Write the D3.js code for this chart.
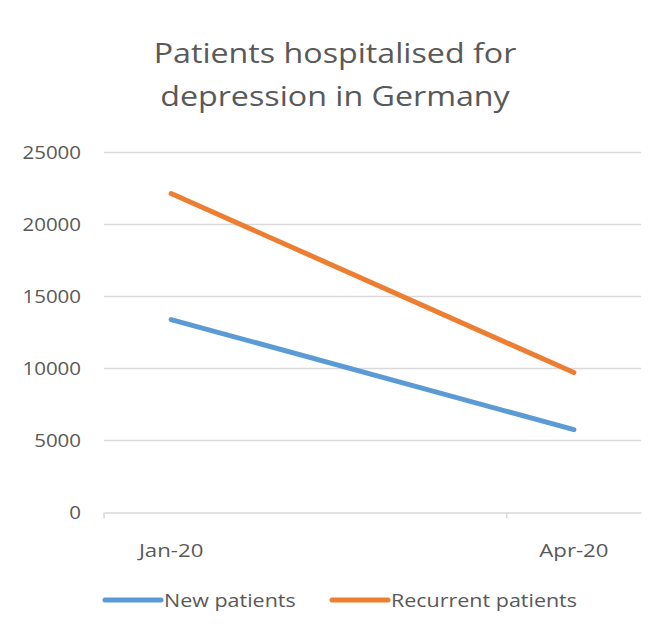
<!DOCTYPE html>
<html><head><meta charset="utf-8">
<script src="https://cdn.jsdelivr.net/npm/d3@7"></script>
<style>body{margin:0;background:#fff}text{font-family:"Open Sans",sans-serif;fill:#595959}</style>
</head><body><svg id="c" width="654" height="629"></svg>
<script>
const months = ["Jan-20","Feb-20","Mar-20","Apr-20"];
const tickLabels = ["Jan-20","Apr-20"];
const dates = ["Jan-20","Apr-20"];
const newPatients = [13400, 5750];
const recurrentPatients = [22150, 9720];
const yTicks = [0,5000,10000,15000,20000,25000];
const seriesNames = ["New patients","Recurrent patients"];
const titleLines = ["Patients hospitalised for","depression in Germany"];
const colors = ["#5B9BD5","#ED7D31"];

const svg = d3.select("#c");
const x = d3.scaleBand().domain(months).range([104,641]).padding(0);
const y = d3.scaleLinear().domain([0,25000]).range([512.5,152.5]);

function stretch(sel, k){
  sel.each(function(){
    const L = this.getComputedTextLength();
    d3.select(this).attr("textLength", L*k).attr("lengthAdjust","spacingAndGlyphs");
  });
}

const tt = svg.append("g").selectAll("text").data(titleLines).join("text")
  .attr("x",335).attr("y",(d,i)=>63+i*43).attr("text-anchor","middle").attr("font-size",28).text(d=>d);
stretch(tt, 1.15);

// gridlines
svg.append("g").selectAll("line").data(yTicks.filter(d=>d>0)).join("line")
  .attr("x1",104).attr("x2",641).attr("y1",d=>y(d)).attr("y2",d=>y(d))
  .attr("stroke","#D9D9D9").attr("stroke-width",1.5);

// y axis labels
const ya = svg.append("g").attr("transform","translate(104,0)")
  .call(d3.axisLeft(y).tickValues(yTicks).tickSize(0).tickPadding(23).tickFormat(d3.format("d")));
ya.select(".domain").remove();
ya.selectAll("text").attr("font-size",17.5).style("font-family","'Open Sans',sans-serif").attr("fill","#595959").attr("dy","0.35em");
stretch(ya.selectAll("text"), 1.17);

// x axis
const xa = svg.append("g").attr("transform",`translate(0,${y(0)})`)
  .call(d3.axisBottom(x).tickValues(tickLabels).tickSize(0).tickPadding(31));
xa.select(".domain").attr("stroke","#D9D9D9").attr("stroke-width",1.5);
xa.selectAll("text").attr("font-size",18.5).style("font-family","'Open Sans',sans-serif").attr("fill","#595959");
stretch(xa.selectAll("text"), 1.2);
xa.selectAll(".tick line").remove();
// major tick marks at month boundaries of labelled months
svg.append("g").selectAll("line").data(tickLabels).join("line")
  .attr("x1",d=>x(d)).attr("x2",d=>x(d)).attr("y1",y(0)).attr("y2",y(0)+6)
  .attr("stroke","#D9D9D9").attr("stroke-width",1.5);

const cx = d => x(d)+x.bandwidth()/2;
const line = d3.line().x((d,i)=>cx(dates[i])).y(d=>y(d));
[newPatients,recurrentPatients].forEach((s,i)=>{
  svg.append("path").attr("d",line(s)).attr("fill","none").attr("stroke",colors[i])
    .attr("stroke-width",5).attr("stroke-linecap","round");
});

// legend
const legX = [105,332];
const lg = svg.append("g").selectAll("g").data(seriesNames).join("g")
  .attr("transform",(d,i)=>`translate(${legX[i]},600)`);
lg.append("line").attr("x1",0).attr("x2",56).attr("y1",0).attr("y2",0)
  .attr("stroke",(d,i)=>colors[i]).attr("stroke-width",5).attr("stroke-linecap","round");
const lt = lg.append("text").attr("x",59).attr("y",6.5).attr("font-size",19).text(d=>d);
stretch(lt, 1.13);
</script></body></html>
